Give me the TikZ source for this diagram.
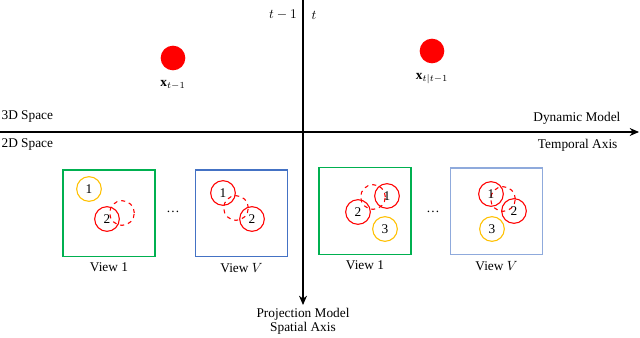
\documentclass[tikz,border=0pt]{standalone}
\usepackage{amsmath,amssymb}
\usepackage{fontspec}
\setmainfont{Liberation Serif}
\usetikzlibrary{positioning,arrows.meta}
\definecolor{viewgreen}{RGB}{0,176,80}
\definecolor{viewblue}{RGB}{68,114,196}
\definecolor{lightblue}{RGB}{143,170,220}
\definecolor{occorange}{RGB}{255,192,0}
\definecolor{objred}{RGB}{255,0,0}

\begin{document}
\begin{tikzpicture}[x=0.75pt, y=-0.75pt,
  point/.style={circle, fill=objred, minimum size=18.5pt, inner sep=0pt},
  track/.style={circle, draw=objred, minimum size=18.5pt, inner sep=0pt,
    line width=0.8pt, font=\normalsize},
  pred/.style={track, dashed},
  occl/.style={track, draw=occorange},
  view/.style={draw, line width=1pt, minimum width=69pt, minimum height=65pt},
  axis/.style={-{Stealth[length=7pt, width=6pt]}, line width=0.8pt},
  lbl/.style={font=\normalsize, inner sep=1pt},
]
  \useasboundingbox (0,0) rectangle (640,338);

  % Axes
  \coordinate (hstart) at (0,132);
  \coordinate (hend)   at (639,132);
  \coordinate (vstart) at (303,0);
  \coordinate (vend)   at (303,305);
  \draw[axis] (hstart) -- (hend);
  \draw[axis] (vstart) -- (vend);

  % Axis labels
  \node[lbl, anchor=west] (space3d) at (0,117) {3D Space};
  \node[lbl, anchor=west] (space2d) at (0,145) {2D Space};
  \node[lbl, anchor=east] (dynmodel) at (622,118) {Dynamic Model};
  \node[lbl, anchor=east] (temporal) at (619,145) {Temporal Axis};
  \node[lbl] (tprev) at (283,15) {$t-1$};
  \node[lbl] (tnow)  at (314,15) {$t$};
  \node[lbl, align=center, below=1pt of vend] (projmodel)
    {Projection Model\\[-1pt]Spatial Axis};

  % 3D points
  \node[point] (xprev) at (173,58) {};
  \node[point] (xpred) at (432,51) {};
  \node[lbl, below=6pt of xprev] {$\mathbf{x}_{t-1}$};
  \node[lbl, below=6pt of xpred] {$\mathbf{x}_{t|t-1}$};

  % Views at time t-1
  \node[view, draw=viewgreen] (viewA) at (109,213.5) {};
  \node[view, draw=viewblue]  (viewB) at (241.5,213.5) {};
  \node[lbl, below=3pt of viewA] {View 1};
  \node[lbl, below=3pt of viewB] {View $V$};
  \node[lbl] (dotsA) at (173,212) {\dots};

  \node[pred]  (a2p) at (122,213) {};
  \node[occl]  (a1) at (89,189)  {1};
  \node[track] (a2) at (107,219) {2};

  \node[pred]  (bp) at (236,208) {};
  \node[track] (b1) at (223,193) {1};
  \node[track] (b2) at (252,219) {2};

  % Views at time t
  \node[view, draw=viewgreen]  (viewC) at (365,211) {};
  \node[view, draw=lightblue]  (viewD) at (496.5,211.5) {};
  \node[lbl, below=3pt of viewC] {View 1};
  \node[lbl, below=3pt of viewD] {View $V$};
  \node[lbl] (dotsB) at (433,212) {\dots};

  \node[pred]  (cp) at (373,197) {};
  \node[track] (c1) at (387,196) {1};
  \node[track] (c2) at (358,212) {2};
  \node[occl]  (c3) at (385,229) {3};

  \node[pred]  (dp) at (503,199) {};
  \node[track] (d1) at (491,194) {1};
  \node[track] (d2) at (514,211) {2};
  \node[occl]  (d3) at (492,229) {3};
\end{tikzpicture}
\end{document}
